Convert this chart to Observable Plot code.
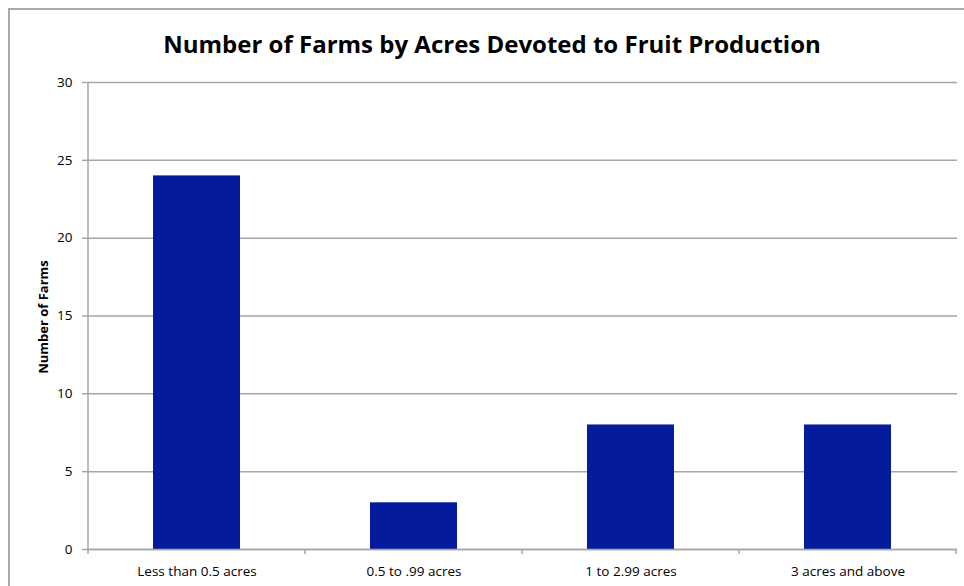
<!DOCTYPE html>
<html>
<head>
<meta charset="utf-8">
<script src="https://cdn.jsdelivr.net/npm/d3@7"></script>
<script src="https://cdn.jsdelivr.net/npm/@observablehq/plot@0.6"></script>
<style>
  html, body { margin: 0; padding: 0; background: #fff; }
  #chart { position: relative; width: 964px; height: 586px; overflow: hidden; font-family: "Open Sans", Lato, sans-serif; }
  #frame { position: absolute; left: 8px; top: 8px; width: 1000px; height: 1000px; border-top: 2px solid #a9a9a9; border-left: 2px solid #a9a9a9; }
  #title { position: absolute; left: 0; width: 984px; top: 27px; text-align: center; font-weight: bold; font-size: 24px; color: #000; }
  #ylabel { position: absolute; left: 43px; top: 317px; transform: translate(-50%, -50%) rotate(-90deg); white-space: nowrap; font-weight: bold; font-size: 13px; color: #000; }
  #plot { position: absolute; left: 0; top: 0; }
</style>
</head>
<body>
<div id="chart">
  <div id="frame"></div>
  <div id="plot"></div>
  <div id="title">Number of Farms by Acres Devoted to Fruit Production</div>
  <div id="ylabel">Number of Farms</div>
</div>
<script>
// Farm counts by acreage class
const categories = ["Less than 0.5 acres", "0.5 to .99 acres", "1 to 2.99 acres", "3 acres and above"];
const farms = [24, 3, 8, 8];
const yTicks = [0, 5, 10, 15, 20, 25, 30];

const data = categories.map((c, i) => ({category: c, farms: farms[i]}));
const gray = "#a6a6a6";

// Left axis line plus category boundary tick marks below the baseline
function axisLines(index, scales, values, dims) {
  const x = scales.x, y = scales.y;
  const y0 = y(0), yTop = y(yTicks[yTicks.length - 1]);
  const bw = typeof x.bandwidth === "function" ? x.bandwidth() : x.bandwidth;
  const xs = categories.map(c => x(c)).concat([x(categories[categories.length - 1]) + bw]);
  const g = d3.create("svg:g").attr("stroke", gray).attr("stroke-width", 1.5);
  g.append("line")
    .attr("x1", xs[0]).attr("x2", xs[0])
    .attr("y1", yTop).attr("y2", y0);
  g.selectAll("line.tick").data(xs).join("line")
    .attr("class", "tick")
    .attr("x1", d => d).attr("x2", d => d)
    .attr("y1", y0).attr("y2", y0 + 5);
  return g.node();
}

const plot = Plot.plot({
  width: 964,
  height: 586,
  marginLeft: 87,
  marginRight: 7,
  marginTop: 82,
  marginBottom: 37,
  style: {fontFamily: "'Open Sans', Lato, sans-serif", fontSize: "13px", color: "#000", background: "transparent"},
  x: {domain: categories, padding: 0, label: null},
  y: {domain: [0, 30], label: null},
  marks: [
    Plot.gridY(yTicks, {stroke: gray, strokeOpacity: 1, strokeWidth: 1.5}),
    Plot.barY(data, {x: "category", y: "farms", fill: "#031b9c", insetLeft: 65, insetRight: 65}),
    Plot.ruleY([0], {stroke: gray, strokeWidth: 1.5}),
    Plot.axisY(yTicks, {tickSize: 5, tickPadding: 10, stroke: gray, strokeWidth: 1.5, label: null, fontSize: 13.5}),
    Plot.axisX({tickSize: 0, tickPadding: 17, label: null, fontSize: 13.5}),
    axisLines
  ]
});

document.getElementById("plot").appendChild(plot);
</script>
</body>
</html>
